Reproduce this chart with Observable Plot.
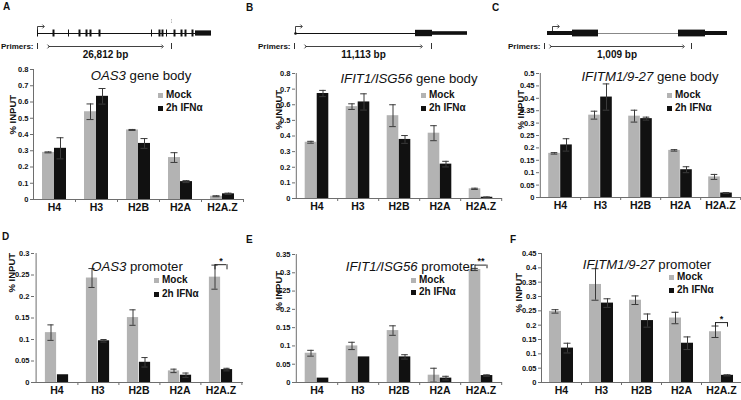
<!DOCTYPE html>
<html><head><meta charset="utf-8">
<script src="https://cdn.jsdelivr.net/npm/d3@7"></script>
<script src="https://cdn.jsdelivr.net/npm/@observablehq/plot@0.6"></script>
<style>
body{margin:0;background:#fff;}
#root{position:relative;width:741px;height:400px;overflow:hidden;font-family:"Liberation Sans",Arial,sans-serif;color:#111;}
#root svg{position:absolute;overflow:visible;background:transparent;}
.lbl{position:absolute;white-space:nowrap;}
.title{font-size:13.2px;line-height:10px;height:10px;transform:translateX(-50%);}
.letter{font-size:10px;line-height:10px;font-weight:bold;}
.leg{font-size:10px;line-height:8px;height:8px;font-weight:bold;}
.sq{display:inline-block;width:5px;height:5px;margin-right:3px;vertical-align:0px;}
</style></head><body><div id="root"></div>
<script>
const categories = ["H4","H3","H2B","H2A","H2A.Z"];
const seriesNames = ["Mock","2h IFNα"];
const MOCK = "#b3b3b3", IFN = "#111111", ERR = "#3a3a3a", AXIS = "#6e6e6e";

// A: OAS3 gene body
const oas3BodyMock = [0.290,0.540,0.428,0.258,0.020];
const oas3BodyMockErr = [0.003,0.048,0.003,0.030,0.003];
const oas3BodyIfn = [0.315,0.635,0.345,0.110,0.035];
const oas3BodyIfnErr = [0.065,0.048,0.030,0.006,0.004];
// B: IFIT1/ISG56 gene body
const ifit1BodyMock = [0.360,0.588,0.530,0.418,0.062];
const ifit1BodyMockErr = [0.006,0.018,0.070,0.048,0.004];
const ifit1BodyIfn = [0.672,0.618,0.378,0.220,0.008];
const ifit1BodyIfnErr = [0.020,0.052,0.025,0.018,0.002];
// C: IFITM1/9-27 gene body
const ifitm1BodyMock = [0.178,0.332,0.328,0.190,0.083];
const ifitm1BodyMockErr = [0.003,0.016,0.024,0.003,0.010];
const ifitm1BodyIfn = [0.212,0.405,0.318,0.112,0.018];
const ifitm1BodyIfnErr = [0.025,0.053,0.006,0.012,0.002];
// D: OAS3 promoter
const oas3PromMock = [0.116,0.243,0.151,0.027,0.245];
const oas3PromMockErr = [0.018,0.022,0.018,0.004,0.028];
const oas3PromIfn = [0.018,0.097,0.047,0.017,0.030];
const oas3PromIfnErr = [0.000,0.003,0.011,0.005,0.003];
// E: IFIT1/ISG56 promoter
const ifit1PromMock = [0.080,0.100,0.142,0.020,0.309];
const ifit1PromMockErr = [0.008,0.010,0.013,0.019,0.003];
const ifit1PromIfn = [0.012,0.070,0.070,0.012,0.019];
const ifit1PromIfnErr = [0.000,0.000,0.006,0.005,0.002];
// F: IFITM1/9-27 promoter
const ifitm1PromMock = [0.248,0.342,0.287,0.225,0.177];
const ifitm1PromMockErr = [0.006,0.055,0.015,0.020,0.020];
const ifitm1PromIfn = [0.120,0.277,0.216,0.137,0.025];
const ifitm1PromIfnErr = [0.017,0.015,0.023,0.022,0.002];

// tick labels
const ticks08 = [0,0.1,0.2,0.3,0.4,0.5,0.6,0.7,0.8];
const ticks05 = [0,0.05,0.1,0.15,0.2,0.25,0.3,0.35,0.4,0.45,0.5];
const ticks03 = [0,0.05,0.1,0.15,0.2,0.25,0.3];
const ticks035 = [0,0.05,0.1,0.15,0.2,0.25,0.3,0.35];
const ticks045 = [0,0.05,0.1,0.15,0.2,0.25,0.3,0.35,0.4,0.45];

// significance marks
const sigD = {cat:"H2A.Z", top:0.274, leg:0.262, mark:"*"};
const sigE = {cat:"H2A.Z", top:0.321, leg:0.311, mark:"**"};
const sigF = {cat:"H2A.Z", top:0.209, leg:0.193, mark:"*"};

// gene diagrams (positions in diagram units)
const oas3Gene = {backbone:[37,195], blocks:[{x1:195,x2:211,h:2.6}],
  exons:[{x:37,w:1},{x:53,w:2},{x:68,w:1},{x:79,w:2},{x:86,w:2},{x:90,w:2},{x:99,w:2},{x:151,w:1},{x:159,w:2},{x:162,w:2},{x:166,w:1},{x:174,w:2},{x:181,w:2},{x:185,w:2},{x:192,w:2}],
  tss:37, primers:[37,171], faint:171, span:[48,162], bp:"26,812 bp", thin:false};
const ifit1Gene = {backbone:[47,167], blocks:[{x1:167,x2:184,h:3.2},{x1:184,x2:219,h:1.8}], exons:[], dot:47,
  tss:47, primers:[46,183], span:[57,173], bp:"11,113 bp", thin:false};
const ifitm1Gene = {backbone:[102,182], blocks:[{x1:51,x2:76,h:2},{x1:76,x2:102,h:3.4},{x1:182,x2:209,h:3.4},{x1:209,x2:231,h:2}], exons:[],
  tss:56, primers:[48,195], span:[54,187], bp:"1,009 bp", thin:true};

const root = document.getElementById("root");
const FONT = "Liberation Sans, Arial, sans-serif";

function genePlot(g, left, width) {
  const yB = 33, yP = 46;
  const tssTop = g.thin ? 31 : yB;
  const marks = [
    Plot.ruleY([g.backbone], {x1: d=>d[0], x2: d=>d[1], y: yB, stroke: g.thin ? "#888" : "#111", strokeWidth: 1}),
    Plot.rect(g.blocks, {x1:"x1", x2:"x2", y1: d=>yB-d.h, y2: d=>yB+d.h, fill:"#111"}),
    Plot.ruleX(g.exons, {x:"x", y1: yB-3.5, y2: yB+3.5, strokeWidth: d=>d.w, stroke:"#111"}),
    Plot.line([{x:g.tss,y:tssTop},{x:g.tss,y:26},{x:g.tss+6,y:26}], {x:"x", y:"y", stroke:"#111", strokeWidth:0.8, markerEnd:"arrow"}),
    Plot.ruleX(g.primers, {x: d=>d, y1: yP-3, y2: yP+3, stroke:"#333", strokeWidth:1}),
    Plot.link([g.span], {x1: d=>d[0], x2: d=>d[1], y1: yP, y2: yP, stroke:"#111", strokeWidth:0.8, markerStart:"arrow", markerEnd:"arrow"}),
    Plot.text([g.bp], {x: (g.span[0]+g.span[1])/2, y: 54, text: d=>d, fontSize: 10, fontWeight:"bold"}),
    Plot.text(["Primers:"], {x: g.primers[0]-4, y: yP, text: d=>d, textAnchor:"end", fontSize: 8, fontWeight:"bold"})
  ];
  if (g.dot != null) marks.push(Plot.dot([g.dot], {x: d=>d, y: yB, r: 1.3, fill:"#111"}));
  if (g.faint != null) marks.push(Plot.ruleX([g.faint], {x: d=>d, y1: 19, y2: 24, stroke:"#bbb", strokeDasharray:"1.5,1"}));
  const svg = Plot.plot({
    width, height: 60, margin: 0,
    x: {domain:[0,width], range:[0,width], axis:null},
    y: {domain:[0,60], range:[0,60], axis:null},
    style: {fontFamily: FONT, background:"transparent", overflow:"visible"},
    marks
  });
  svg.style.left = left + "px"; svg.style.top = "0px";
  root.appendChild(svg);
}

function barPanel(p) {
  const bw = (p.x1 - p.x0) / categories.length;
  const pxPerUnit = (p.y0 - p.yTop) / p.ymax;
  const rows = categories.map((c,i) => ({cat:c, m:p.mock[i], me:p.mockErr[i], f:p.ifn[i], fe:p.ifnErr[i]}));
  const mockRows = rows.map(r => ({cat:r.cat, v:r.m, e:r.me}));
  const ifnRows = rows.map(r => ({cat:r.cat, v:r.f, e:r.fe}));
  const errs = (data, dx) => {
    const d = data.filter(r => r.e > 0);
    const capL = bw/2 + dx - 3.5;
    const capR = bw - capL - 7;
    return [
      Plot.ruleX(d, {x:"cat", y1: r=>r.v-r.e, y2: r=>r.v+r.e, dx, stroke: ERR, strokeWidth: 1}),
      Plot.tickY(d, {x:"cat", y: r=>r.v+r.e, insetLeft: capL, insetRight: capR, stroke: ERR, strokeWidth: 1}),
      Plot.tickY(d, {x:"cat", y: r=>r.v-r.e, insetLeft: capL, insetRight: capR, stroke: ERR, strokeWidth: 1})
    ];
  };
  const marks = [
    Plot.barY(mockRows, {x:"cat", y:"v", fill: MOCK, insetLeft: bw/2-12, insetRight: bw/2}),
    Plot.barY(ifnRows, {x:"cat", y:"v", fill: IFN, insetLeft: bw/2, insetRight: bw/2-12}),
    ...errs(mockRows, -6),
    ...errs(ifnRows, 6),
    Plot.ruleY([0], {stroke: AXIS}),
    Plot.ruleX([categories[0]], {dx: -bw/2, stroke: AXIS}),
    Plot.ruleX(categories, {dx: bw/2, y1: 0, y2: -3/pxPerUnit, stroke: AXIS}),
    Plot.axisY({ticks: p.ticks, tickFormat: d => String(d), tickSize: 3, tickPadding: 2, fontSize: 7.5, fontWeight: "bold", stroke: AXIS, label: null}),
    Plot.axisX({tickSize: 0, tickPadding: 4, fontSize: 10.5, fontWeight: "bold", label: null}),
    Plot.text(["% INPUT"], {frameAnchor:"left", rotate:-90, dx: p.ylabX - p.x0, dy: p.ylabY - (p.yTop+p.y0)/2, text:d=>d, fontSize: 9.5, fontWeight:"bold"})
  ];
  if (p.sig) {
    const s = p.sig;
    marks.push(
      Plot.tickY([s], {x:"cat", y:"top", insetLeft: bw/2-6, insetRight: bw/2-6, stroke:"#222"}),
      Plot.ruleX([s], {x:"cat", y1:"leg", y2:"top", dx:-6, stroke:"#222"}),
      Plot.ruleX([s], {x:"cat", y1:"leg", y2:"top", dx:6, stroke:"#222"}),
      Plot.text([s], {x:"cat", y:"top", text:"mark", dy:-1, lineAnchor:"bottom", fontSize: 9, fontWeight:"bold"})
    );
  }
  const svg = Plot.plot({
    width: p.width, height: p.height,
    marginLeft: p.x0 - p.left, marginRight: p.left + p.width - p.x1,
    marginTop: p.yTop - p.top, marginBottom: p.top + p.height - p.y0,
    x: {domain: categories, padding: 0},
    y: {domain: [0, p.ymax]},
    style: {fontFamily: FONT, background:"transparent", overflow:"visible", color:"#111"},
    marks
  });
  svg.style.left = p.left + "px"; svg.style.top = p.top + "px";
  root.appendChild(svg);

  // title
  const t = document.createElement("div");
  t.className = "lbl title";
  t.style.left = p.titleX + "px"; t.style.top = (p.titleY - 5) + "px";
  t.innerHTML = `<i>${p.gene}</i> ${p.region}`;
  root.appendChild(t);
  // legend
  [[seriesNames[0], MOCK, p.legY[0]], [seriesNames[1], IFN, p.legY[1]]].forEach(([name, col, y]) => {
    const l = document.createElement("div");
    l.className = "lbl leg";
    l.style.left = p.legX + "px"; l.style.top = (y - 4) + "px";
    l.innerHTML = `<span class="sq" style="background:${col}"></span>${name}`;
    root.appendChild(l);
  });
  // panel letter
  const L = document.createElement("div");
  L.className = "lbl letter";
  L.style.left = p.letter[1] + "px"; L.style.top = p.letter[2] + "px";
  L.textContent = p.letter[0];
  root.appendChild(L);
}

genePlot(oas3Gene, 0, 248);
genePlot(ifit1Gene, 248, 248);
genePlot(ifitm1Gene, 496, 245);

const panels = [
  {gene:"OAS3", region:"gene body", mock:oas3BodyMock, mockErr:oas3BodyMockErr, ifn:oas3BodyIfn, ifnErr:oas3BodyIfnErr, ymax:0.8, ticks:ticks08,
   left:0, top:55, width:248, height:165, x0:33, x1:243, yTop:69, y0:199, ylabX:12, ylabY:134,
   titleX:141, titleY:76, legX:158, legY:[95,108], letter:["A",3,2]},
  {gene:"IFIT1/ISG56", region:"gene body", mock:ifit1BodyMock, mockErr:ifit1BodyMockErr, ifn:ifit1BodyIfn, ifnErr:ifit1BodyIfnErr, ymax:0.8, ticks:ticks08,
   left:248, top:55, width:248, height:165, x0:295, x1:502, yTop:73, y0:198, ylabX:278, ylabY:129,
   titleX:409, titleY:79, legX:421, legY:[95,108], letter:["B",246,3]},
  {gene:"IFITM1/9-27", region:"gene body", mock:ifitm1BodyMock, mockErr:ifitm1BodyMockErr, ifn:ifitm1BodyIfn, ifnErr:ifitm1BodyIfnErr, ymax:0.5, ticks:ticks05,
   left:496, top:55, width:245, height:165, x0:539, x1:741, yTop:73, y0:197, ylabX:520, ylabY:129,
   titleX:650, titleY:77, legX:667, legY:[95,108], letter:["C",492,3]},
  {gene:"OAS3", region:"promoter", mock:oas3PromMock, mockErr:oas3PromMockErr, ifn:oas3PromIfn, ifnErr:oas3PromIfnErr, ymax:0.3, ticks:ticks03, sig:sigD,
   left:0, top:235, width:248, height:165, x0:34, x1:243, yTop:253, y0:382, ylabX:11, ylabY:292,
   titleX:137, titleY:267, legX:154, legY:[280,294], letter:["D",2,232]},
  {gene:"IFIT1/ISG56", region:"promoter", mock:ifit1PromMock, mockErr:ifit1PromMockErr, ifn:ifit1PromIfn, ifnErr:ifit1PromIfnErr, ymax:0.35, ticks:ticks035, sig:sigE,
   left:248, top:235, width:248, height:165, x0:295, x1:502, yTop:254, y0:382, ylabX:278, ylabY:310,
   titleX:410, titleY:267, legX:411, legY:[280,292], letter:["E",246,235]},
  {gene:"IFITM1/9-27", region:"promoter", mock:ifitm1PromMock, mockErr:ifitm1PromMockErr, ifn:ifitm1PromIfn, ifnErr:ifitm1PromIfnErr, ymax:0.45, ticks:ticks045, sig:sigF,
   left:496, top:235, width:245, height:165, x0:541, x1:741, yTop:253, y0:382, ylabX:518, ylabY:312,
   titleX:647, titleY:265, legX:669, legY:[277,290], letter:["F",510,235]}
];
panels.forEach(barPanel);
</script>
</body></html>
